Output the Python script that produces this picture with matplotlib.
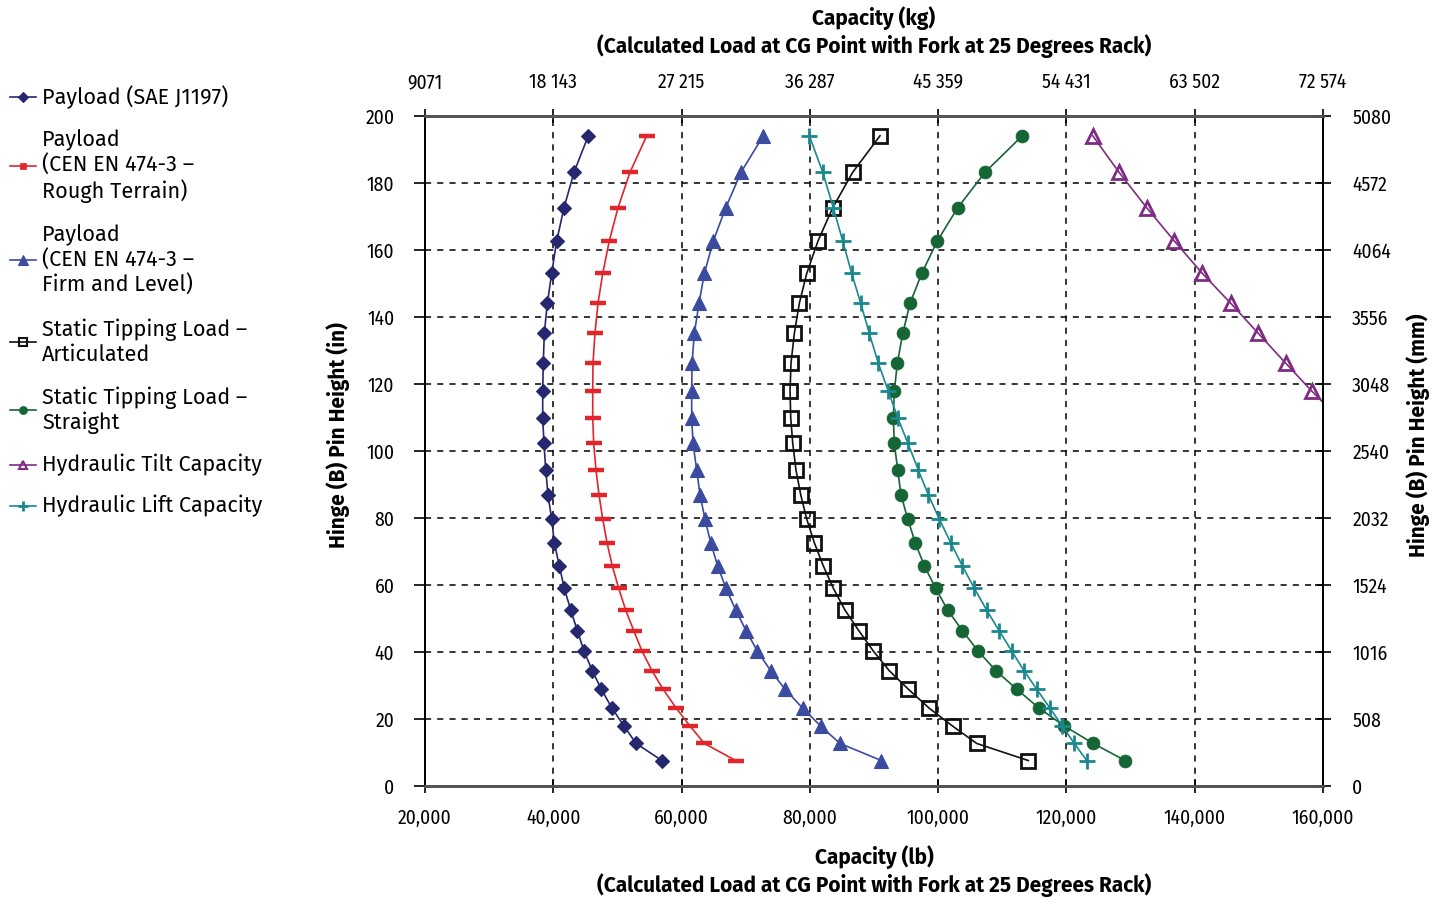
import matplotlib
matplotlib.use("Agg")
import matplotlib.pyplot as plt
from matplotlib.lines import Line2D

FONT = ['Fira Sans Condensed', 'DejaVu Sans']
FONT_WIDE = ['Fira Sans', 'DejaVu Sans']
plt.rcParams['font.family'] = FONT

# ---------------- data ----------------
heights_in = [194.1, 183.2, 172.6, 162.7, 153.0, 144.1, 135.1, 126.2, 117.9, 109.9,
              102.3, 94.3, 86.9, 79.7, 72.6, 65.7, 59.0, 52.5, 46.4, 40.3,
              34.4, 28.9, 23.2, 17.9, 12.7, 7.6]

payload_sae = [45460, 43230, 41670, 40530, 39750, 39070, 38600, 38440, 38350, 38350,
               38550, 38820, 39180, 39750, 40160, 40940, 41720, 42720, 43750, 44790,
               46080, 47490, 49160, 51030, 52900, 56950]
payload_rough = [54570, 51960, 50090, 48730, 47710, 46970, 46500, 46190, 46150, 46150,
                 46300, 46660, 47130, 47710, 48380, 49200, 50200, 51290, 52540, 53830,
                 55390, 57110, 59180, 61320, 63550, 68440]
payload_firm = [72740, 69270, 66880, 64950, 63550, 62720, 61990, 61630, 61580, 61580,
                61780, 62360, 62880, 63650, 64540, 65630, 66930, 68440, 70050, 71810,
                73900, 76130, 78890, 81690, 84700, 91140]
tip_articulated = [90940, 86680, 83560, 81270, 79510, 78360, 77580, 77060, 76910, 77020,
                   77330, 77840, 78580, 79510, 80700, 82100, 83660, 85480, 87620, 89890,
                   92390, 95350, 98620, 102240, 106010, 114060]
tip_straight = [113120, 107310, 103050, 99870, 97440, 95620, 94480, 93640, 93170, 93010,
                93170, 93700, 94210, 95260, 96440, 97850, 99620, 101490, 103770, 106220,
                109020, 112250, 115770, 119670, 124190, 129140]
tilt_capacity = [124100, 128200, 132520, 136820, 141190, 145620, 149920, 154190, 158240, 162400]
lift_capacity = [79920, 82010, 83660, 85120, 86530, 87930, 89270, 90670, 92230, 93700,
                 95290, 96910, 98470, 100180, 101960, 103770, 105640, 107570, 109490, 111470,
                 113390, 115370, 117440, 119360, 121230, 123170]

x_ticks_lb = [20000, 40000, 60000, 80000, 100000, 120000, 140000, 160000]
x_tick_labels_lb = ['20,000', '40,000', '60,000', '80,000', '100,000', '120,000', '140,000', '160,000']
x_tick_labels_kg = ['9071', '18 143', '27 215', '36 287', '45 359', '54 431', '63 502', '72 574']
y_ticks_in = [0, 20, 40, 60, 80, 100, 120, 140, 160, 180, 200]
y_tick_labels_mm = ['0', '508', '1016', '1524', '2032', '2540', '3048', '3556', '4064', '4572', '5080']

series_labels = ['Payload (SAE J1197)',
                 'Payload\n(CEN EN 474-3 –\nRough Terrain)',
                 'Payload\n(CEN EN 474-3 –\nFirm and Level)',
                 'Static Tipping Load –\nArticulated',
                 'Static Tipping Load –\nStraight',
                 'Hydraulic Tilt Capacity',
                 'Hydraulic Lift Capacity']

# ---------------- styles ----------------
C_NAVY = '#25286e'
C_RED = '#e1252b'
C_BLUE = '#3a4ba0'
C_BLACK = '#111111'
C_GREEN = '#166535'
C_PURPLE = '#7e2b83'
C_TEAL = '#1a888d'

styles = [
    dict(color=C_NAVY, marker='D', ms=7.6, mfc=C_NAVY, mec=C_NAVY, mew=0.8),
    dict(color=C_RED, marker='_', ms=11.5, mfc=C_RED, mec=C_RED, mew=3.2),
    dict(color=C_BLUE, marker='^', ms=10.5, mfc=C_BLUE, mec=C_BLUE, mew=0.8),
    dict(color=C_BLACK, marker='s', ms=9.5, mfc='none', mec=C_BLACK, mew=2.0),
    dict(color=C_GREEN, marker='o', ms=9.3, mfc=C_GREEN, mec=C_GREEN, mew=0.5),
    dict(color=C_PURPLE, marker='^', ms=10.0, mfc='none', mec=C_PURPLE, mew=2.0),
    dict(color=C_TEAL, marker='+', ms=11.5, mfc=C_TEAL, mec=C_TEAL, mew=2.0),
]

W, H = 1443, 898
fig = plt.figure(figsize=(W / 100, H / 100), dpi=100)
ax = fig.add_axes([425 / W, 1 - 786 / H, (1323 - 425) / W, (786 - 116) / H])

data = [payload_sae, payload_rough, payload_firm, tip_articulated, tip_straight,
        tilt_capacity, lift_capacity]
for vals, st in zip(data, styles):
    hs = heights_in[:len(vals)]
    ax.plot(vals, hs, lw=1.2, **st)

ax.set_xlim(20000, 160000)
ax.set_ylim(0, 200)
ax.set_xticks(x_ticks_lb)
ax.set_xticklabels(x_tick_labels_lb)
ax.set_yticks(y_ticks_in)
ax.grid(True, color='black', linestyle=(0, (4, 4)), linewidth=1.1)
ax.set_axisbelow(True)

TICK_FS = 14
ax.tick_params(axis='x', direction='inout', length=10, width=1.2, labelsize=TICK_FS, pad=11)
ax.tick_params(axis='y', direction='out', length=8, width=1.2, labelsize=TICK_FS, pad=14)

for s in ['top', 'bottom']:
    ax.spines[s].set_color('#555555')
    ax.spines[s].set_linewidth(2.0)
for s in ['left', 'right']:
    ax.spines[s].set_color('black')
    ax.spines[s].set_linewidth(1.3)

axt = ax.twiny()
axt.set_xlim(ax.get_xlim())
axt.set_xticks(x_ticks_lb)
axt.set_xticklabels(x_tick_labels_kg)
axt.tick_params(axis='x', direction='inout', length=10, width=1.2, labelsize=TICK_FS, pad=12)

axr = ax.twinx()
axr.set_ylim(ax.get_ylim())
axr.set_yticks(y_ticks_in)
axr.set_yticklabels(y_tick_labels_mm)
axr.tick_params(axis='y', direction='inout', length=12, width=1.2, labelsize=TICK_FS, pad=15)

for a in (axt, axr):
    for s in ['top', 'bottom']:
        a.spines[s].set_color('#555555')
        a.spines[s].set_linewidth(2.0)
    for s in ['left', 'right']:
        a.spines[s].set_color('black')
        a.spines[s].set_linewidth(1.3)

TITLE_FS = 15
TW = 'bold'
tkw = dict(ha='center', va='center', fontsize=TITLE_FS, fontweight=TW, family=FONT_WIDE)
fig.text(874 / W, 1 - 857 / H, 'Capacity (lb)', **tkw)
fig.text(874 / W, 1 - 885 / H, '(Calculated Load at CG Point with Fork at 25 Degrees Rack)', **tkw)
fig.text(874 / W, 1 - 18 / H, 'Capacity (kg)', **tkw)
fig.text(874 / W, 1 - 46 / H, '(Calculated Load at CG Point with Fork at 25 Degrees Rack)', **tkw)
fig.text(338 / W, 1 - 435 / H, 'Hinge (B) Pin Height (in)', rotation=90, **tkw)
fig.text(1418 / W, 1 - 435 / H, 'Hinge (B) Pin Height (mm)', rotation=90, **tkw)

# ---------------- legend (manual layout) ----------------
legend_y = [97, 166, 260, 342, 410, 465, 506]
leg_marker_scale = 0.62
for yy, lab, st in zip(legend_y, series_labels, styles):
    yf = 1 - yy / H
    st2 = dict(st)
    st2['ms'] = st['ms'] * leg_marker_scale
    if st['marker'] == '_':
        st2['marker'] = 's'
        st2['ms'] = 5
        st2['mew'] = 0.5
    elif st['marker'] in ('s', '^') and st['mfc'] == 'none':
        st2['mew'] = 1.5
    ln = Line2D([10 / W, 23 / W, 36 / W], [yf, yf, yf], transform=fig.transFigure, lw=1.2,
                markevery=[1], **st2)
    fig.add_artist(ln)
    fig.text(42 / W, yf, lab, ha='left', va='center', fontsize=15.6, linespacing=1.17,
             family=FONT_WIDE)

fig.savefig('out.png', dpi=100)
